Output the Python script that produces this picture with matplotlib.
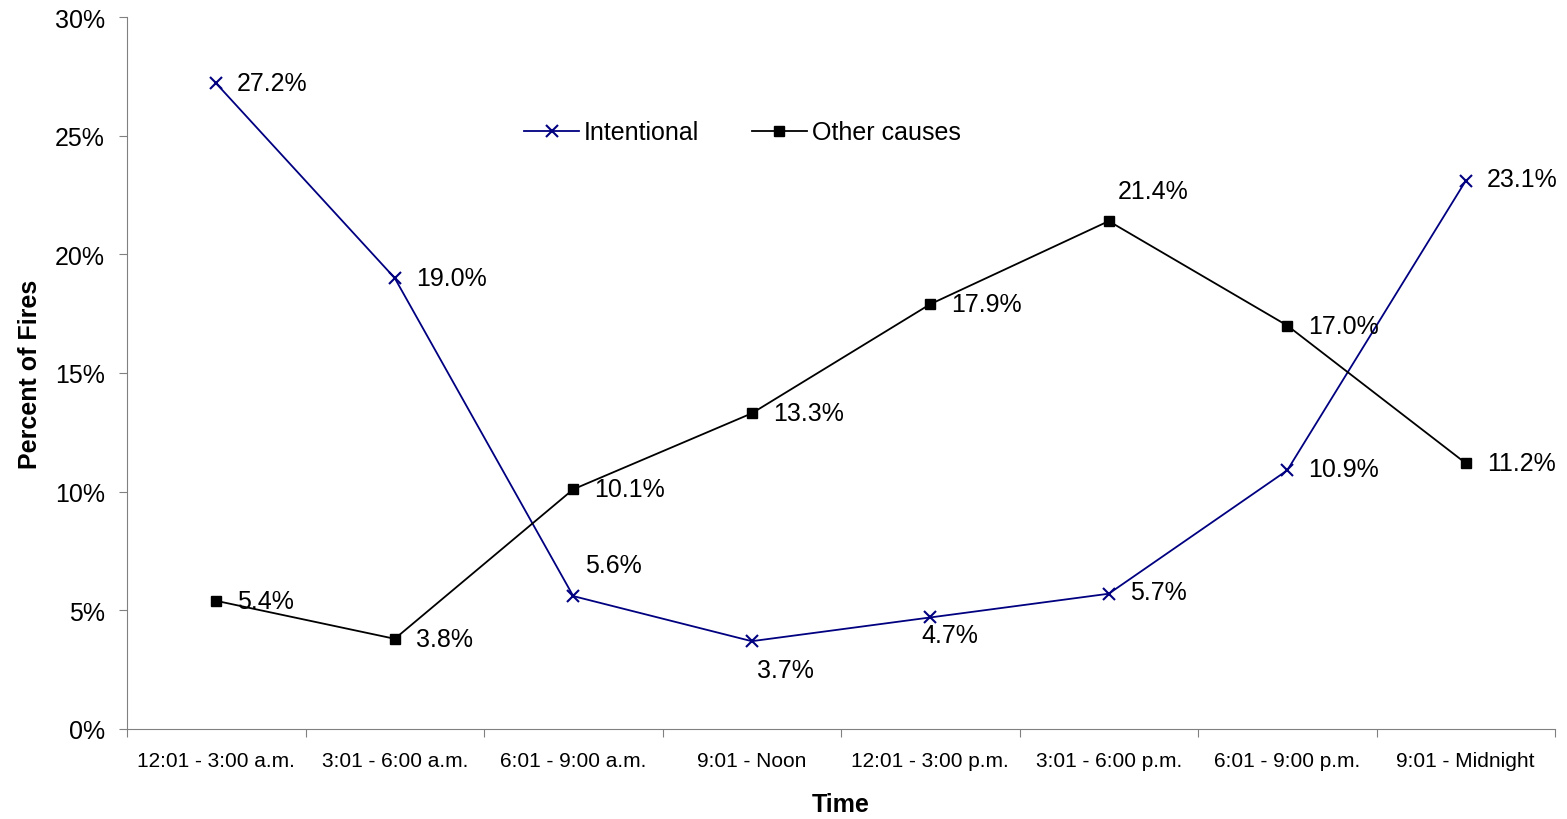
import matplotlib
matplotlib.use('Agg')
import matplotlib.pyplot as plt
import numpy as np

plt.rcParams['font.family'] = ['Liberation Sans', 'DejaVu Sans']

times = ['12:01 - 3:00 a.m.', '3:01 - 6:00 a.m.', '6:01 - 9:00 a.m.', '9:01 - Noon',
         '12:01 - 3:00 p.m.', '3:01 - 6:00 p.m.', '6:01 - 9:00 p.m.', '9:01 - Midnight']
intentional = [27.2, 19.0, 5.6, 3.7, 4.7, 5.7, 10.9, 23.1]
other = [5.4, 3.8, 10.1, 13.3, 17.9, 21.4, 17.0, 11.2]

# label offsets in pixels (dx, dy) from each point
int_off = [(21, 0), (21, 0), (12, 31), (5, -29), (-9, -18), (21, 2), (21, 1), (21, 2)]
oth_off = [(21, 0), (21, 0), (21, 0), (21, 0), (21, 0), (9, 30), (21, 0), (21, 0)]

fig = plt.figure(figsize=(15.67, 8.2), dpi=100)
ax = fig.add_axes([127/1567, 90/820, 1428/1567, 712/820])

x = np.arange(len(times)) + 0.5
ax.plot(x, intentional, color='#000080', lw=1.3, marker='x', ms=9, mew=1.5, label='Intentional')
ax.plot(x, other, color='black', lw=1.3, marker='s', ms=7.5, label='Other causes')

for xi, v, (dx, dy) in zip(x, intentional, int_off):
    ax.annotate(f'{v:.1f}%', (xi, v), xytext=(dx, dy), textcoords='offset pixels',
                ha='left', va='center', fontsize=18)
for xi, v, (dx, dy) in zip(x, other, oth_off):
    ax.annotate(f'{v:.1f}%', (xi, v), xytext=(dx, dy), textcoords='offset pixels',
                ha='left', va='center', fontsize=18)

ax.set_xlim(0, len(times))
ax.set_ylim(0, 30)
ax.set_yticks(np.arange(0, 31, 5))
ax.set_yticklabels([f'{t}%' for t in range(0, 31, 5)], fontsize=18)
ax.set_xticks(np.arange(0, len(times) + 1))
ax.set_xticklabels([])
ax.set_xticks(x, minor=True)
ax.set_xticklabels(times, minor=True, fontsize=15)
ax.tick_params(axis='x', which='minor', length=0, pad=16)
ax.tick_params(axis='both', which='major', length=6, color='#808080')
ax.tick_params(axis='y', which='major', pad=10)
for s in ['top', 'right']:
    ax.spines[s].set_visible(False)
for s in ['left', 'bottom']:
    ax.spines[s].set_color('#808080')

ax.set_ylabel('Percent of Fires', fontsize=18, fontweight='bold', labelpad=9)
ax.set_xlabel('Time', fontsize=18, fontweight='bold', labelpad=16)

ax.legend(loc='center', bbox_to_anchor=(0.431, 0.838), ncol=2, frameon=False,
          fontsize=18, handlelength=2.2, columnspacing=2.1, handletextpad=0.2)

fig.savefig('out.png', dpi=100)
